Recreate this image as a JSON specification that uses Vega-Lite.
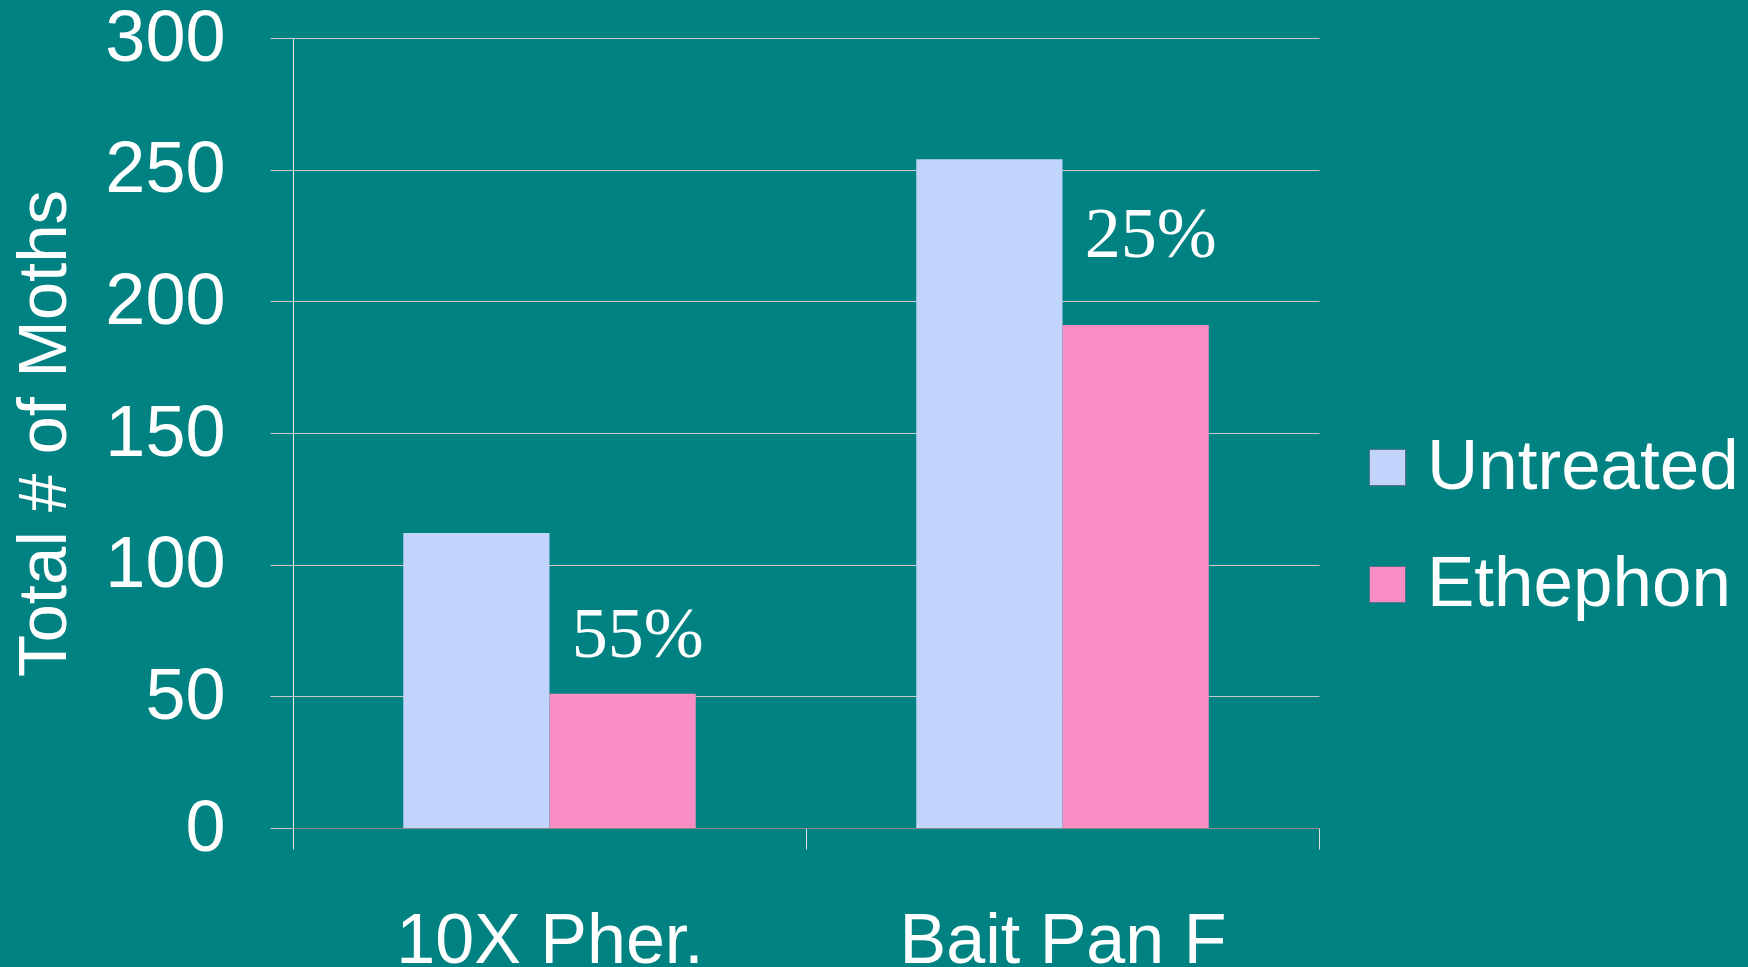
{
  "$schema": "https://vega.github.io/schema/vega-lite/v6.json",
  "width": 1026,
  "height": 790,
  "autosize": {"type": "none"},
  "padding": {"left": 293, "top": 38, "right": 429, "bottom": 139},
  "background": "#008282",
  "config": {
    "view": {"stroke": null},
    "font": "Liberation Sans"
  },
  "datasets": {
    "bars": [
      {"group": "10X Pher.", "series": "Untreated", "moths": 112},
      {"group": "10X Pher.", "series": "Ethephon", "moths": 51},
      {"group": "Bait Pan F", "series": "Untreated", "moths": 254},
      {"group": "Bait Pan F", "series": "Ethephon", "moths": 191}
    ],
    "notes": [
      {"group": "10X Pher.", "series": "Ethephon", "label": "55%", "labelAt": 65},
      {"group": "Bait Pan F", "series": "Ethephon", "label": "25%", "labelAt": 217}
    ]
  },
  "layer": [
    {
      "data": {"name": "bars"},
      "mark": {"type": "bar"},
      "encoding": {
        "x": {
          "field": "group",
          "type": "nominal",
          "sort": ["10X Pher.", "Bait Pan F"],
          "scale": {"paddingInner": 0, "paddingOuter": 0},
          "title": null,
          "axis": {
            "tickBand": "extent",
            "tickSize": 21,
            "tickColor": "#E0E0E0",
            "domainColor": "#8A8A8A",
            "labelPadding": 58,
            "labelFontSize": 70,
            "labelColor": "white",
            "labelFont": "Liberation Sans",
            "labelAngle": 0,
            "labelLimit": 0,
            "grid": false
          }
        },
        "xOffset": {
          "field": "series",
          "type": "nominal",
          "sort": ["Untreated", "Ethephon"],
          "scale": {"domain": ["Untreated", "Ethephon"], "paddingInner": 0, "paddingOuter": 0.754}
        },
        "y": {
          "field": "moths",
          "type": "quantitative",
          "scale": {"domain": [0, 300], "nice": false},
          "title": "Total # of Moths",
          "axis": {
            "values": [0, 50, 100, 150, 200, 250, 300],
            "grid": true,
            "gridColor": "#C8C8C8",
            "gridWidth": 1,
            "tickColor": "#C8C8C8",
            "tickSize": 23,
            "domainColor": "#E8E8E8",
            "labelPadding": 45,
            "labelFontSize": 72,
            "labelColor": "white",
            "labelFont": "Liberation Sans",
            "titleFont": "Liberation Sans",
            "titleFontSize": 69,
            "titleFontWeight": "normal",
            "titleColor": "white",
            "titlePadding": 25
          }
        },
        "color": {
          "field": "series",
          "type": "nominal",
          "sort": ["Untreated", "Ethephon"],
          "scale": {"domain": ["Untreated", "Ethephon"], "range": ["#C0D4FC", "#F88EC4"]},
          "legend": {
            "orient": "none",
            "legendX": 1059,
            "legendY": 394,
            "title": null,
            "padding": 0,
            "symbolType": "square",
            "symbolSize": 1296,
            "symbolStrokeColor": "#5b6f8f",
            "symbolStrokeWidth": 1,
            "labelFontSize": 71,
            "labelColor": "white",
            "labelFont": "Liberation Sans",
            "labelOffset": 4,
            "rowPadding": 45,
            "labelLimit": 0
          }
        }
      }
    },
    {
      "data": {"name": "notes"},
      "mark": {"type": "text", "font": "Liberation Serif", "fontSize": 72, "color": "white", "dx": 15, "baseline": "alphabetic", "align": "center"},
      "encoding": {
        "x": {"field": "group", "type": "nominal", "sort": ["10X Pher.", "Bait Pan F"]},
        "xOffset": {"field": "series", "type": "nominal", "sort": ["Untreated", "Ethephon"]},
        "y": {"field": "labelAt", "type": "quantitative"},
        "text": {"field": "label"}
      }
    }
  ]
}
